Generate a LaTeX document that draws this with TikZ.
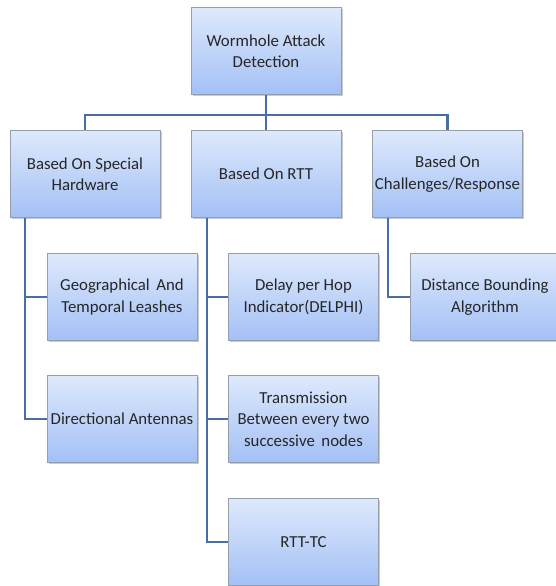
\documentclass[tikz,border=0pt]{standalone}
\usepackage{fontspec}
\setmainfont{Carlito}
\usetikzlibrary{shadows,positioning}

\definecolor{boxtop}{RGB}{222,233,252}
\definecolor{boxbot}{RGB}{163,192,245}
\definecolor{boxline}{RGB}{150,158,172}
\definecolor{linkblue}{RGB}{72,110,165}

\tikzset{
  box/.style={draw=boxline,line width=0.8pt,top color=boxtop,bottom color=boxbot,
    minimum width=150pt,minimum height=87pt,inner sep=2pt,align=center,
    text=black!85,font=\fontsize{16.8}{21.5}\selectfont,
    drop shadow={shadow xshift=1.5pt,shadow yshift=-1.5pt,opacity=0.35,fill=black!60}},
  link/.style={draw=linkblue,line width=2.6pt}
}

\begin{document}
\begin{tikzpicture}[x=1pt,y=-1pt]
  \useasboundingbox (0,0) rectangle (555,586);
  \coordinate (bus) at (266,115);
  \coordinate (hwdrop) at (25,218);
  \coordinate (rttdrop) at (207,218);
  \coordinate (chdrop) at (388,218);

  \node[box] (top) at (266,51) {Wormhole Attack\\Detection};
  \node[box] (hw) at (85,174) {Based On Special\\Hardware};
  \node[box] (rtt) at (266,174) {Based On RTT};
  \node[box] (chal) at (447.5,174) {Based On\\Challenges/Response};

  \node[box] (geo) at (122,297) {Geographical\, And\\Temporal Leashes};
  \node[box] (dir) at (122,419) {Directional Antennas};
  \node[box] (delphi) at (303.5,297) {Delay per Hop\\Indicator(DELPHI)};
  \node[box] (trans) at (303.5,419) {Transmission\\Between every two\\successive\, nodes};
  \node[box] (rttc) at (303.5,542) {RTT-TC};
  \node[box] (dist) at (485,297) {Distance Bounding\\Algorithm};

  % tree connectors
  \draw[link] (top.south) -- (bus);
  \draw[link] (hw.north) |- (bus) -| (chal.north);
  \draw[link] (bus) -- (rtt.north);

  \draw[link] (hwdrop) |- (geo.west);
  \draw[link] (hwdrop) |- (dir.west);
  \draw[link] (rttdrop) |- (delphi.west);
  \draw[link] (rttdrop) |- (trans.west);
  \draw[link] (rttdrop) |- (rttc.west);
  \draw[link] (chdrop) |- (dist.west);
\end{tikzpicture}
\end{document}
